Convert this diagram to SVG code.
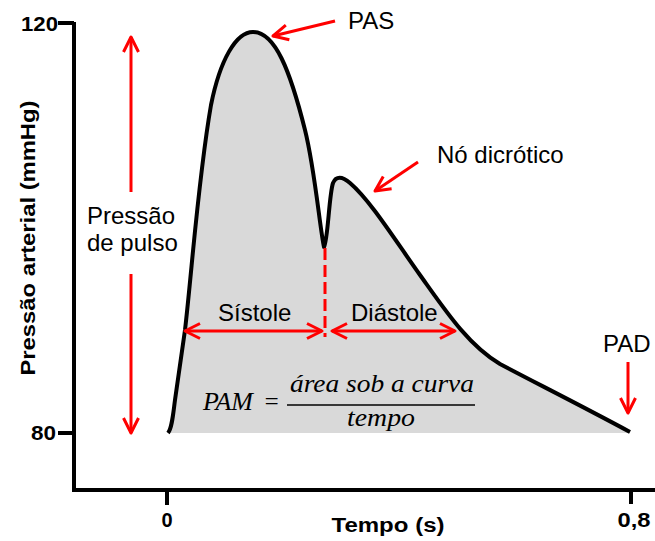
<svg xmlns="http://www.w3.org/2000/svg" width="655" height="541" viewBox="0 0 655 541">
<style>
.ax{stroke:#000;stroke-width:4;fill:none}
.tick{font-family:"Liberation Sans",Arial,sans-serif;font-weight:bold;font-size:20px;fill:#000}
.lab{font-family:"Liberation Sans",Arial,sans-serif;font-size:24px;fill:#000}
.red{stroke:#ff0000;stroke-width:3;fill:none}
.math{font-family:"Liberation Serif","Times New Roman",serif;font-style:italic;font-size:25px;fill:#000}
</style>
<defs>
<marker id="ah" viewBox="0 0 20 20" refX="17" refY="10" markerWidth="20" markerHeight="20" markerUnits="userSpaceOnUse" orient="auto-start-reverse">
<path d="M2,2.5 L17,10 L2,17.5" fill="none" stroke="#ff0000" stroke-width="3" stroke-linejoin="round"/>
</marker>
</defs>
<rect width="655" height="541" fill="#fff"/>
<g id="curve">
<path d="M168,433 C172,428 173,415 175,400 L185,330 C192,270 198,180 211,105 C220,60 236,32 253,32 C275,32 290,70 305,130 C315,170 320,230 324,247 C328,240 329,195 333,183 C336,176 342,176 350,183 C370,200 395,240 420,275 C445,310 468,345 500,364 C530,380 580,405 630,432 L630,433 Z" fill="#d9d9d9" stroke="none"/>
<path d="M168,433 C172,428 173,415 175,400 L185,330 C192,270 198,180 211,105 C220,60 236,32 253,32 C275,32 290,70 305,130 C315,170 320,230 324,247 C328,240 329,195 333,183 C336,176 342,176 350,183 C370,200 395,240 420,275 C445,310 468,345 500,364 C530,380 580,405 630,432" fill="none" stroke="#000" stroke-width="4" stroke-linejoin="round"/>
</g>
<g id="axes">
<path class="ax" d="M74,22 V492 M72,490 H655 M58,23 H74 M58,433 H74 M167,490 V505 M631,490 V504"/>
<text class="tick" x="58" y="31" text-anchor="end" textLength="37" lengthAdjust="spacingAndGlyphs">120</text>
<text class="tick" x="56" y="440" text-anchor="end" textLength="25" lengthAdjust="spacingAndGlyphs">80</text>
<text class="tick" x="167" y="527" text-anchor="middle">0</text>
<text class="tick" x="634" y="527" text-anchor="middle" textLength="33" lengthAdjust="spacingAndGlyphs">0,8</text>
<text class="tick" x="388" y="532" text-anchor="middle" font-size="24" textLength="113" lengthAdjust="spacingAndGlyphs">Tempo (s)</text>
<text class="tick" transform="translate(35,238) rotate(-90)" text-anchor="middle" font-size="24" textLength="275" lengthAdjust="spacingAndGlyphs">Pressão arterial (mmHg)</text>
</g>
<g id="connectors">
<line class="red" x1="131" y1="192" x2="131" y2="37" marker-end="url(#ah)"/>
<line class="red" x1="131" y1="274" x2="131" y2="433" marker-end="url(#ah)"/>
<line class="red" x1="335" y1="21" x2="273" y2="36" marker-end="url(#ah)"/>
<line class="red" x1="418" y1="162" x2="375" y2="191" marker-end="url(#ah)"/>
<line class="red" x1="628" y1="362" x2="628" y2="413" marker-end="url(#ah)"/>
<line class="red" x1="185" y1="331" x2="322" y2="331" marker-start="url(#ah)" marker-end="url(#ah)"/>
<line class="red" x1="332" y1="331" x2="455" y2="331" marker-start="url(#ah)" marker-end="url(#ah)"/>
<line class="red" x1="325" y1="248" x2="325" y2="337" stroke-dasharray="12,5"/>
</g>
<g id="labels">
<text class="lab" x="348" y="29">PAS</text>
<text class="lab" x="437" y="163">Nó dicrótico</text>
<text class="lab" x="87" y="224">Pressão</text>
<text class="lab" x="87" y="251">de pulso</text>
<text class="lab" x="218" y="321">Sístole</text>
<text class="lab" x="351" y="321">Diástole</text>
<text class="lab" x="603" y="352">PAD</text>
</g>
<g id="formula">
<text class="math" x="203" y="410" textLength="50" lengthAdjust="spacingAndGlyphs">PAM</text>
<text class="math" x="263" y="410" font-style="normal">=</text>
<text class="math" x="290" y="392" textLength="184" lengthAdjust="spacingAndGlyphs">área sob a curva</text>
<line x1="287" y1="405" x2="475" y2="405" stroke="#000" stroke-width="1.5"/>
<text class="math" x="381" y="426" text-anchor="middle" textLength="68" lengthAdjust="spacingAndGlyphs">tempo</text>
</g>
</svg>
